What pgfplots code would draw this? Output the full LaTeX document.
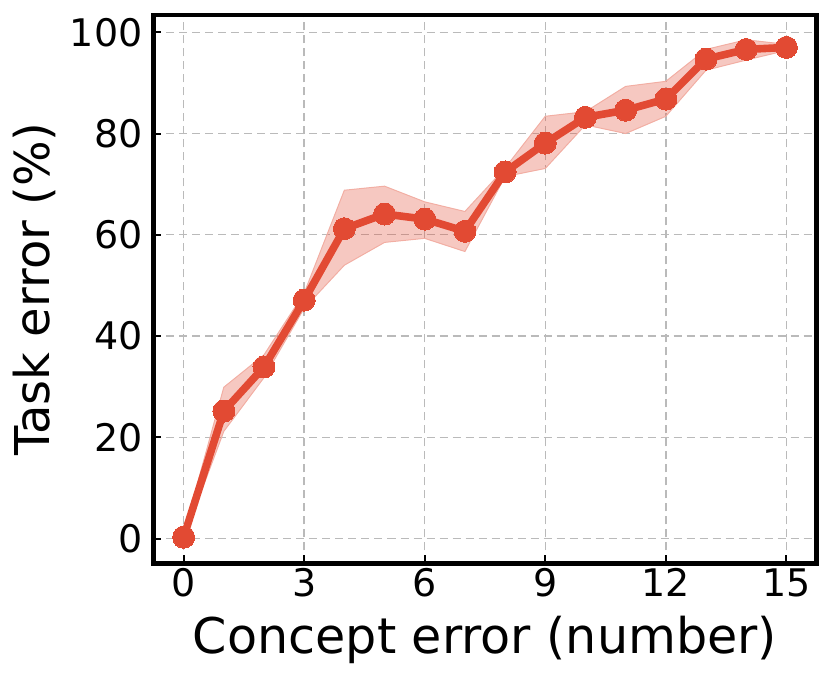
\documentclass[border=0pt]{standalone}
\usepackage{fontspec}
\setmainfont{DejaVu Sans}
\usepackage{pgfplots}
\pgfplotsset{compat=1.18}
\usepgfplotslibrary{fillbetween}
\definecolor{linered}{HTML}{E24A33}

\begin{document}
\begin{tikzpicture}
\begin{axis}[
    scale only axis,
    width=331.5pt, height=274.25pt,
    xmin=-0.75, xmax=15.75,
    ymin=-4.9, ymax=103.4,
    xtick={0,3,...,15},
    ytick={0,20,...,100},
    tick pos=left,
    tick align=inside,
    major tick length=4pt,
    every tick/.style={black, line width=1pt},
    axis line style={line width=2.3pt},
    grid=major,
    grid style={dash pattern=on 4pt off 2.5pt, black!27, line width=0.7pt},
    ticklabel style={font=\fontsize{19}{21}\selectfont},
    yticklabel style={xshift=-2pt},
    xticklabel style={yshift=1pt},
    ylabel style={font=\fontsize{24}{27}\selectfont},
    xlabel style={font=\fontsize{24.6}{27}\selectfont, yshift=-2.5pt},
    xlabel={Concept error (number)},
    ylabel={Task error (\%)},
    /pgf/number format/assume math mode=true,
    clip=false,
]
% band edges
\addplot[name path=upper, draw=linered!45, line width=0.5pt, forget plot] coordinates {
    (0,1.0) (1,29.9) (2,36.3) (3,48.5) (4,68.8) (5,69.6) (6,66.5) (7,64.6)
    (8,73.2) (9,83.4) (10,84.3) (11,89.3) (12,90.3) (13,96.6) (14,98.5) (15,97.6)
};
\addplot[name path=lower, draw=linered!45, line width=0.5pt, forget plot] coordinates {
    (0,0.0) (1,21.2) (2,31.8) (3,45.5) (4,54.0) (5,58.5) (6,59.3) (7,56.7)
    (8,71.5) (9,73.1) (10,81.7) (11,80.0) (12,83.4) (13,92.5) (14,94.5) (15,96.4)
};
\addplot[fill=linered, fill opacity=0.3, draw=none, forget plot] fill between[of=upper and lower];
% mean
\addplot[color=linered, line width=3.8pt, mark=*, mark size=5.5pt,
    mark options={fill=linered, draw=linered, line width=0pt}] coordinates {
    (0,0.3) (1,25.2) (2,33.9) (3,47.1) (4,61.2) (5,64.1) (6,63.1) (7,60.7)
    (8,72.4) (9,78.1) (10,83.2) (11,84.6) (12,86.8) (13,94.7) (14,96.6) (15,97.0)
};
% page margins as in the reference
\path (rel axis cs:0,0) ++(-76.75pt,-57.75pt) (rel axis cs:1,1) ++(7.25pt,7.5pt);
\end{axis}
\end{tikzpicture}
\end{document}
